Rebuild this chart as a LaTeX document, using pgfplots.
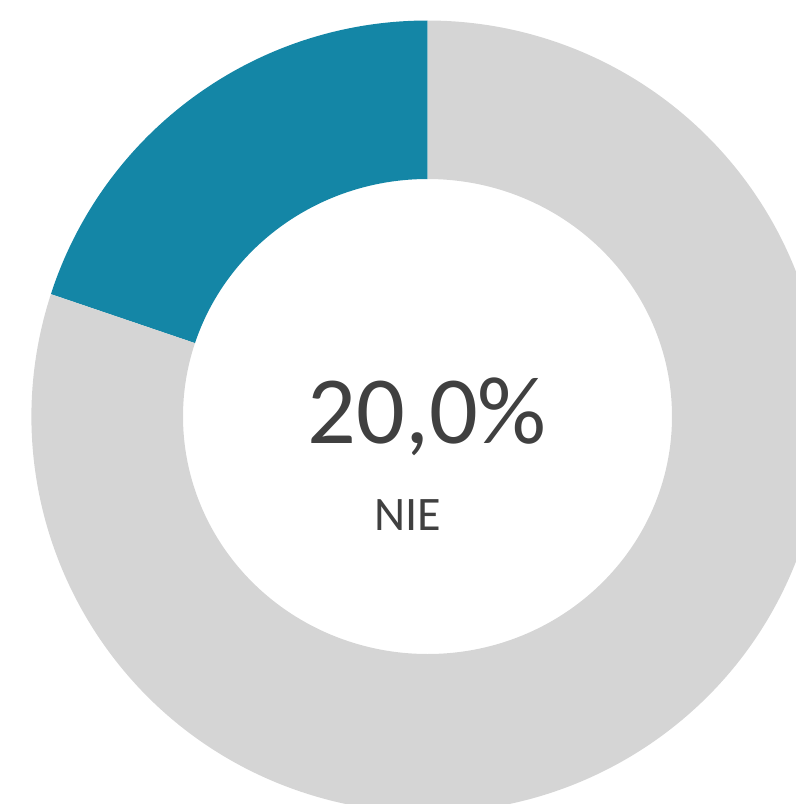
\documentclass[border=0pt]{standalone}
\usepackage{pgfplots}
\pgfplotsset{compat=1.18}
\usepackage{pgfplotstable}
\usepackage{fontspec}
\setmainfont{Carlito}
\definecolor{segblue}{HTML}{1486A6}
\definecolor{seggray}{HTML}{D5D5D5}
\definecolor{txt}{HTML}{404040}
\pgfplotstableread{
label value
NIE 20
TAK 80
}\donutdata
\pgfplotstablegetelem{0}{value}\of\donutdata \let\valA\pgfplotsretval
\pgfplotstablegetelem{1}{value}\of\donutdata \let\valB\pgfplotsretval
\pgfmathsetmacro{\tot}{\valA+\valB}
\pgfmathsetmacro{\angA}{90+\valA/\tot*360}
\pgfmathsetmacro{\angB}{\angA+\valB/\tot*360}
\begin{document}
\begin{tikzpicture}
\begin{axis}[name=ax, scale only axis, width=7.96cm, height=8.04cm,
  xmin=0, xmax=796, ymin=0, ymax=804, y dir=reverse,
  hide axis, clip=true]
\addplot[draw=none] coordinates {(0,0) (796,804)};
\coordinate (C) at (axis cs:427.5,416.5);
\fill[segblue] ([shift={(C)}]90:3.96cm) arc[start angle=90, end angle=\angA, radius=3.96cm]
  -- ([shift={(C)}]\angA:2.445cm and 2.375cm) arc[start angle=\angA, end angle=90, x radius=2.445cm, y radius=2.375cm] -- cycle;
\fill[seggray] ([shift={(C)}]\angA:3.96cm) arc[start angle=\angA, end angle=\angB, radius=3.96cm]
  -- ([shift={(C)}]\angB:2.445cm and 2.375cm) arc[start angle=\angB, end angle=\angA, x radius=2.445cm, y radius=2.375cm] -- cycle;
\node[txt, anchor=base, font=\fontsize{27.4pt}{30pt}\selectfont, inner sep=0pt] at (axis cs:427,443) {20,0\%};
\node[txt, anchor=base, font=\fontsize{13.7pt}{16pt}\selectfont, inner sep=0pt] at (axis cs:408,530) {NIE};
\end{axis}
\pgfresetboundingbox
\path (ax.south west) rectangle (ax.north east);
\end{tikzpicture}
\end{document}
